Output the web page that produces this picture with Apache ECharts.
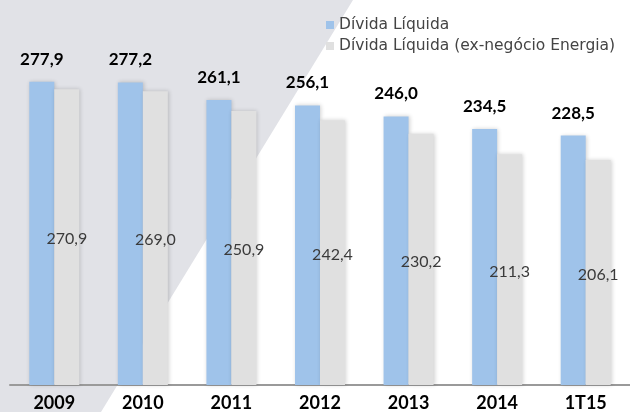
<!DOCTYPE html>
<html>
<head>
<meta charset="utf-8">
<script src="https://cdn.jsdelivr.net/npm/echarts@6/dist/echarts.min.js"></script>
<style>
  html, body { margin: 0; padding: 0; background: #fff; }
  #chart { width: 630px; height: 412px; }
</style>
</head>
<body>
<div id="chart"></div>
<script>
var categories = ['2009', '2010', '2011', '2012', '2013', '2014', '1T15'];
var dividaLiquida = [277.9, 277.2, 261.1, 256.1, 246.0, 234.5, 228.5];
var dividaExEnergia = [270.9, 269.0, 250.9, 242.4, 230.2, 211.3, 206.1];
var seriesNames = ['Dívida Líquida', 'Dívida Líquida (ex-negócio Energia)'];

function fmt(v) {
    return v.toFixed(1).replace('.', ',');
}

var chart = echarts.init(document.getElementById('chart'));

var barShadow = {
    shadowBlur: 4,
    shadowColor: 'rgba(0,0,0,0.18)',
    shadowOffsetX: 1
};

var option = {
    animation: false,
    graphic: [{
        type: 'polygon',
        z: -10,
        silent: true,
        shape: { points: [[0, 0], [353, 0], [101, 412], [0, 412]] },
        style: { fill: '#e1e2e7' }
    }],
    legend: {
        orient: 'vertical',
        left: 326,
        top: 17,
        padding: 0,
        itemWidth: 8,
        itemHeight: 8,
        itemGap: 5,
        icon: 'rect',
        textStyle: { fontFamily: 'DejaVu Sans', fontSize: 15.5, color: '#444' },
        data: seriesNames
    },
    grid: { left: 10, right: -2, top: 57.5, bottom: 26 },
    xAxis: {
        type: 'category',
        data: categories,
        axisLine: { lineStyle: { color: '#9a9a9a', width: 2 } },
        axisTick: { length: 4, lineStyle: { color: '#9a9a9a' } },
        axisLabel: {
            margin: 9,
            fontFamily: 'Lato',
            fontWeight: 'bold',
            fontSize: 18,
            color: '#000'
        }
    },
    yAxis: {
        type: 'value',
        min: 0,
        max: 300,
        show: false,
        splitLine: { show: false }
    },
    series: [{
        name: seriesNames[0],
        type: 'bar',
        data: dividaLiquida,
        barWidth: 25,
        barGap: '0%',
        itemStyle: Object.assign({ color: '#9fc3ea' }, barShadow),
        label: {
            show: true,
            position: 'top',
            distance: 14,
            fontFamily: 'Lato',
            fontWeight: 'bold',
            fontSize: 17,
            color: '#000',
            formatter: function (p) { return fmt(p.value); }
        }
    }, {
        name: seriesNames[1],
        type: 'bar',
        data: dividaExEnergia,
        barWidth: 25,
        itemStyle: Object.assign({ color: '#e0e0e0' }, barShadow),
        label: {
            show: true,
            position: 'inside',
            offset: [0, 2],
            fontFamily: 'Lato',
            fontSize: 16,
            color: '#3a3a3a',
            formatter: function (p) { return fmt(p.value); }
        }
    }]
};

chart.setOption(option);
</script>
</body>
</html>
